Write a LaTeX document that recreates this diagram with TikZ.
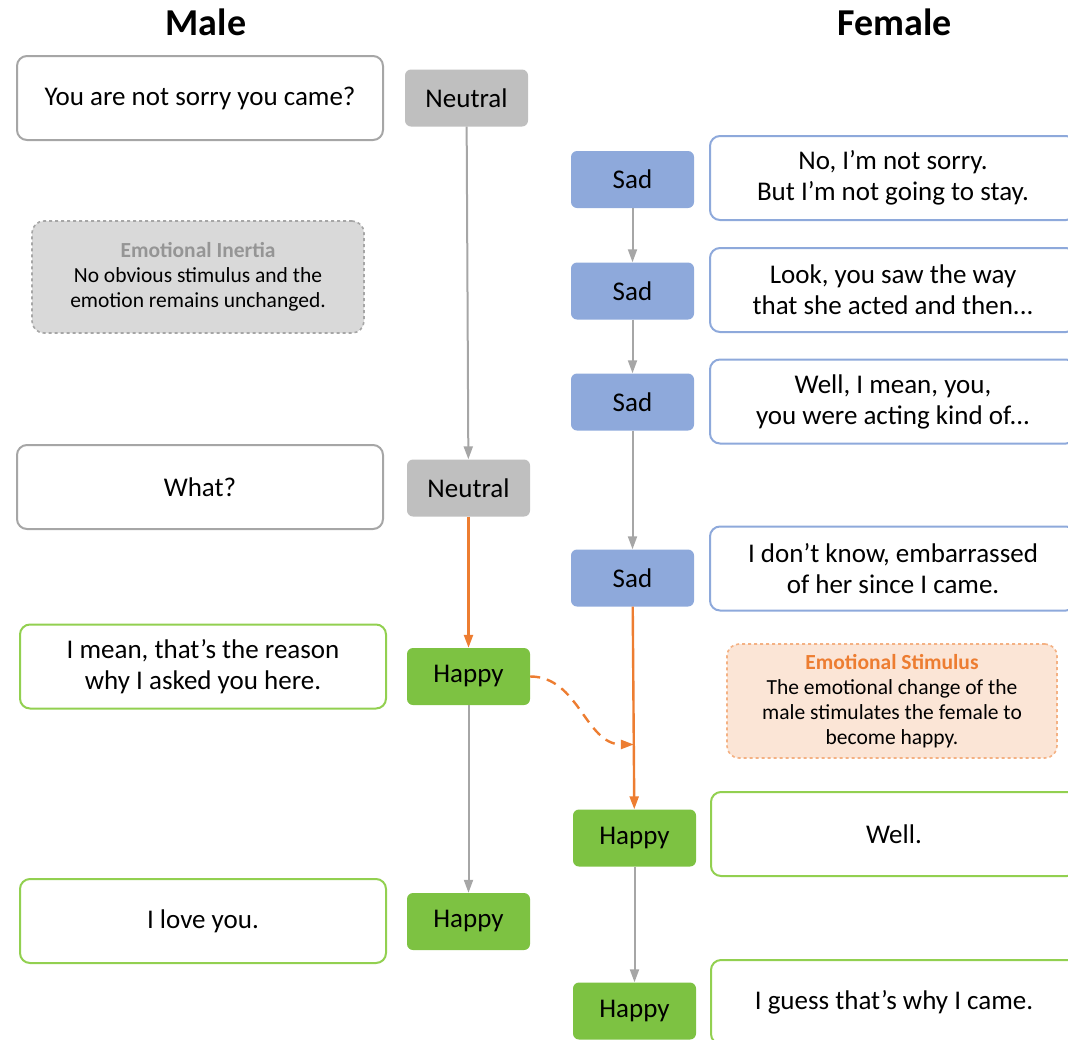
\documentclass[tikz,border=0pt]{standalone}
\usepackage{fontspec}
\setmainfont{Carlito}
\usepackage{tikz}
\usetikzlibrary{arrows.meta, positioning, calc}
\definecolor{neutralgray}{RGB}{191, 191, 191}
\definecolor{boxgray}{RGB}{166, 166, 166}
\definecolor{sadblue}{RGB}{142, 169, 219}
\definecolor{happygreen}{RGB}{125, 194, 66}
\definecolor{bordergreen}{RGB}{146, 208, 80}
\definecolor{stimorange}{RGB}{237, 125, 49}
\definecolor{notegray}{RGB}{217, 217, 217}
\definecolor{notepeach}{RGB}{251, 229, 214}

\begin{document}
\begin{tikzpicture}[
    x=1pt, y=-1pt,
    title/.style={font=\fontsize{38}{42}\selectfont\bfseries},
    utter/.style={draw, line width=2pt, rounded corners=10pt, minimum width=366pt, minimum height=84pt, align=center, fill=white, font=\fontsize{27}{31}\selectfont},
    emo/.style={rounded corners=6pt, minimum width=123pt, minimum height=57pt, font=\fontsize{27}{31}\selectfont},
    note/.style={draw, dashed, line width=1.6pt, rounded corners=12pt, align=center, font=\fontsize{21.5}{25}\selectfont},
    arrow/.style={-{Triangle[length=13pt, width=9pt]}, line width=2pt, draw=boxgray},
    hot/.style={-{Triangle[length=13pt, width=9pt]}, line width=2.4pt, draw=stimorange}
]
\useasboundingbox (0,0) rectangle (1068,1039);

% titles
\node[title] (male) at (206, 22) {Male};
\node[title] (female) at (895, 22) {Female};

% male side
\node[utter, draw=boxgray] (m1) at (200, 98) {You are not sorry you came?};
\node[emo, fill=neutralgray] (neu1) at (466.5, 98) {Neutral};
\node[utter, draw=boxgray] (m2) at (200, 487) {What?};
\node[emo, fill=neutralgray] (neu2) at (468.5, 488) {Neutral};
\node[utter, draw=bordergreen] (m3) at (203, 666.5) {I mean, that’s the reason\\why I asked you here.};
\node[emo, fill=happygreen] (hap1) at (468.5, 676.5) {Happy};
\node[utter, draw=bordergreen] (m4) at (203, 921) {I love you.};
\node[emo, fill=happygreen] (hap2) at (468.5, 921.5) {Happy};

\node[note, draw=boxgray, fill=notegray, minimum width=332pt, minimum height=112pt] (inertia) at (198, 277)
    {{\color{boxgray!90!black}\bfseries Emotional Inertia}\\No obvious stimulus and the\\emotion remains unchanged.};

% female side
\node[emo, fill=sadblue] (sad1) at (632.5, 179.5) {Sad};
\node[utter, draw=sadblue] (f1) at (893, 178) {No, I’m not sorry.\\But I’m not going to stay.};
\node[emo, fill=sadblue] (sad2) at (632.5, 291) {Sad};
\node[utter, draw=sadblue] (f2) at (893, 290) {Look, you saw the way\\that she acted and then...};
\node[emo, fill=sadblue] (sad3) at (632.5, 402) {Sad};
\node[utter, draw=sadblue] (f3) at (893, 401.5) {Well, I mean, you,\\you were acting kind of...};
\node[emo, fill=sadblue] (sad4) at (632.5, 578) {Sad};
\node[utter, draw=sadblue] (f4) at (893, 568.5) {I don’t know, embarrassed\\of her since I came.};
\node[emo, fill=happygreen] (hap3) at (634.5, 838) {Happy};
\node[utter, draw=bordergreen] (f5) at (894, 834) {Well.};
\node[emo, fill=happygreen] (hap4) at (634.5, 1011) {Happy};
\node[utter, draw=bordergreen] (f6) at (894, 1002) {I guess that’s why I came.};

\node[note, draw=stimorange!60, fill=notepeach, minimum width=330pt, minimum height=114pt] (stim) at (892, 701)
    {{\color{stimorange}\bfseries Emotional Stimulus}\\The emotional change of the\\male stimulates the female to\\become happy.};

% transitions
\draw[arrow] (neu1) -- (neu2);
\draw[hot] (neu2) -- (hap1);
\draw[arrow] (hap1) -- (hap2);
\draw[arrow] (sad1) -- (sad2);
\draw[arrow] (sad2) -- (sad3);
\draw[arrow] (sad3) -- (sad4);
\draw[hot] (sad4) -- (hap3);
\draw[arrow] (hap3) -- (hap4);

\coordinate (hit) at ($(sad4.south)!0.68!(hap3.north)$);
\draw[hot, dashed, dash pattern=on 10pt off 7pt] (hap1.east) to[out=0, in=180] (hit);
\end{tikzpicture}
\end{document}
